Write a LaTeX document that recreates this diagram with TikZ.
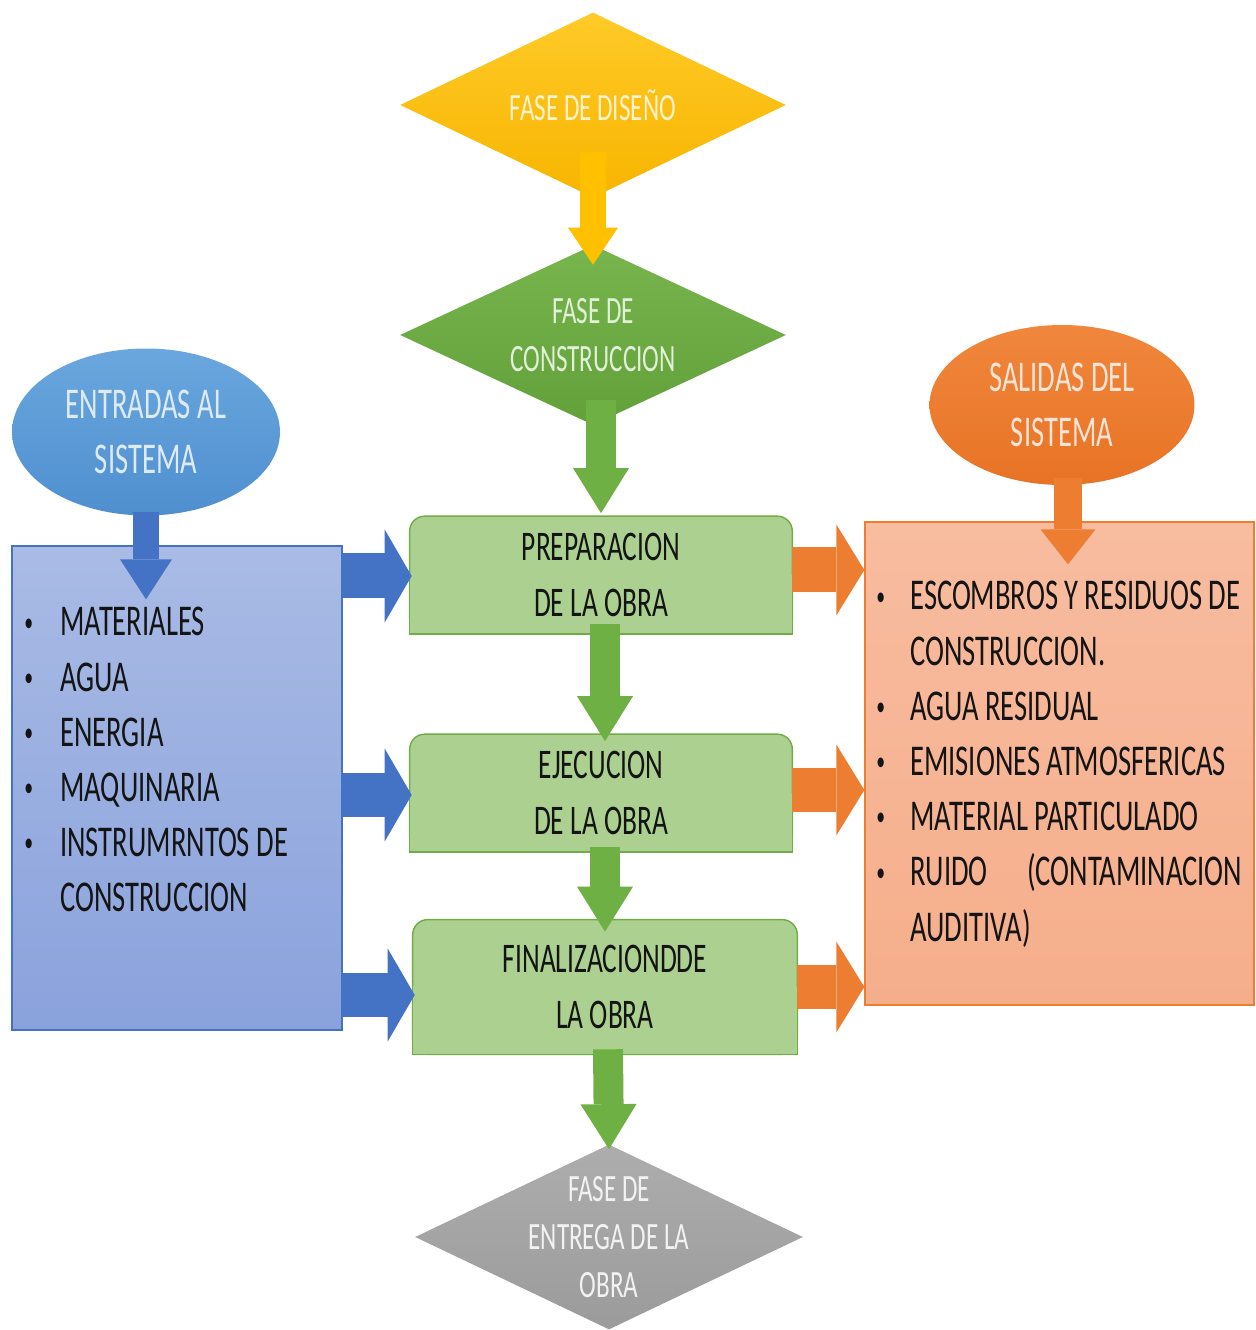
\documentclass[tikz,border=0pt]{standalone}
\usepackage{fontspec}
\setmainfont{Carlito}[FakeStretch=0.65]
\usetikzlibrary{arrows.meta}
\usetikzlibrary{shapes.geometric}
\usetikzlibrary{calc}
\usetikzlibrary{backgrounds}

\definecolor{dyellow}{HTML}{FFC000}
\definecolor{dgreen}{HTML}{70AD47}
\definecolor{agreen}{HTML}{6EB043}
\definecolor{sfill}{HTML}{ABD08F}
\definecolor{bblue}{HTML}{4472C4}
\definecolor{lblue}{HTML}{5B9BD5}
\definecolor{borange}{HTML}{ED7D31}
\definecolor{inkdark}{HTML}{141414}

\newcommand{\dotmark}{\raisebox{0.11em}{\scalebox{0.62}{\textbullet}}}

\begin{document}
\begin{tikzpicture}[x=0.02cm, y=0.02cm]
\tikzset{
   phase/.style = {diamond, minimum width = 7.72cm, minimum height = 3.7cm, inner sep = 0pt},
   phasetext/.style = {align = center, font = \fontsize{22}{27.5}\selectfont},
   source/.style = {ellipse, minimum width = 5.36cm, minimum height = 3.34cm, align = center, font = \fontsize{25}{31}\selectfont},
   stage/.style = {minimum width = 7.64cm, minimum height = 2.34cm, align = center, text = inkdark, font = \fontsize{24}{31.5}\selectfont},
   stagebox/.style = {fill = sfill, draw = dgreen, line width = 0.8pt},
   items/.style = {anchor = base west, inner sep = 0pt, font = \fontsize{25}{31.4}\selectfont},
   flowY/.style = {dyellow, line width = 0.52cm, -{Triangle[width = 1cm, length = 0.74cm, line width = 0pt]}},
   flowG/.style = {agreen, line width = 0.6cm, -{Triangle[width = 1.12cm, length = 0.9cm, line width = 0pt]}},
   flowB/.style = {bblue, line width = 0.54cm, -{Triangle[width = 1.04cm, length = 0.8cm, line width = 0pt]}},
   flowO/.style = {borange, line width = 0.56cm, -{Triangle[width = 1.1cm, length = 0.7cm, line width = 0pt]}},
   sideB/.style = {bblue, line width = 0.9cm, -{Triangle[width = 1.86cm, length = 0.54cm, line width = 0pt]}},
   sideO/.style = {borange, line width = 0.9cm, -{Triangle[width = 1.82cm, length = 0.56cm, line width = 0pt]}}
}
\useasboundingbox (0,0) rectangle (1256,1330);

% phases of the project
\node[phase, top color = {rgb,255:red,255;green,202;blue,40}, bottom color = {rgb,255:red,247;green,181;blue,0},
      label = {[phasetext, text = {rgb,255:red,255;green,242;blue,204}]center:{FASE DE DISEÑO}}] (diseno) at (593,1225) {};
\node[phase, minimum height = 3.6cm, top color = {rgb,255:red,120;green,181;blue,77}, bottom color = {rgb,255:red,98;green,160;blue,58},
      label = {[phasetext, text = {rgb,255:red,226;green,240;blue,217}]center:{FASE DE\\CONSTRUCCION}}] (construccion) at (593,995) {};
\node[phase, minimum width = 7.76cm, top color = {rgb,255:red,173;green,173;blue,173}, bottom color = {rgb,255:red,155;green,155;blue,155},
      label = {[phasetext, text = {rgb,255:red,242;green,242;blue,242}]center:{FASE DE\\ENTREGA DE LA\\OBRA}}] (entrega) at (609,93) {};

% stages
\node[stage] (prep) at (601,755) {PREPARACION\\DE LA OBRA};
\node[stage] (ejec) at (601,537) {EJECUCION\\DE LA OBRA};
\node[stage, minimum width = 7.68cm, minimum height = 2.68cm] (final) at (605,343) {FINALIZACIONDDE\\LA OBRA};

\begin{scope}[on background layer]
  \foreach \n in {prep, ejec, final} {
    \draw[stagebox, rounded corners = 0.3cm] (\n.south west) rectangle (\n.north east);
    \draw[stagebox] (\n.west) -- (\n.south west) -- (\n.south east) -- (\n.east);
  }
\end{scope}

% inputs
\node[source, top color = {rgb,255:red,106;green,167;blue,222}, bottom color = {rgb,255:red,79;green,143;blue,207},
      text = {rgb,255:red,222;green,235;blue,247}] (entradas) at (146,898) {ENTRADAS AL\\SISTEMA};
\node[draw = bblue, line width = 0.8pt, minimum width = 6.6cm, minimum height = 9.68cm,
      top color = {rgb,255:red,169;green,187;blue,229}, bottom color = {rgb,255:red,138;green,162;blue,220}] (inbox) at (177,542) {};
\node[items, text = inkdark] (inlist) at (24,694) {\begin{tabular}[t]{@{}p{0.72cm}@{}l@{}}
  \dotmark & MATERIALES\\
  \dotmark & AGUA\\
  \dotmark & ENERGIA\\
  \dotmark & MAQUINARIA\\
  \dotmark & INSTRUMRNTOS DE\\
           & CONSTRUCCION
\end{tabular}};

% outputs
\node[source, minimum width = 5.3cm, minimum height = 3.2cm, top color = {rgb,255:red,240;green,135;blue,61}, bottom color = {rgb,255:red,232;green,115;blue,37},
      text = {rgb,255:red,252;green,228;blue,214}] (salidas) at (1062,925) {SALIDAS DEL\\SISTEMA};
\node[draw = borange, line width = 0.8pt, minimum width = 7.78cm, minimum height = 9.66cm,
      top color = {rgb,255:red,248;green,188;blue,159}, bottom color = {rgb,255:red,245;green,174;blue,139}] (outbox) at (1059.5,566.5) {};
\node[items, text = inkdark] (outlist) at (876,720) {\begin{tabular}[t]{@{}p{0.68cm}@{}l@{}}
  \dotmark & ESCOMBROS Y RESIDUOS DE\\
           & CONSTRUCCION.\\
  \dotmark & AGUA RESIDUAL\\
  \dotmark & EMISIONES ATMOSFERICAS\\
  \dotmark & MATERIAL PARTICULADO\\
  \dotmark & \makebox[6.64cm][s]{RUIDO (CONTAMINACION}\\
           & AUDITIVA)
\end{tabular}};

% main flow
\draw[flowY] ($(diseno)+(0,-47)$) -- ($(construccion.north)+(0,-20)$);
\draw[flowG] ($(prep.north |- construccion)+(0,-65)$) -- ($(prep.north)+(0,3)$);
\draw[flowG] ($(prep.south)+(4,10)$) -- ($(ejec.north)+(4,-7)$);
\draw[flowG] ($(ejec.south)+(4,5)$) -- ($(final.north)+(0,-12)$);
\draw[flowG] ($(final.south)+(3,5)$) -- ($(entrega.north)+(0,-5)$);

\draw[flowB] ($(entradas.south)+(0,4)$) -- ($(entradas.south |- inbox.north)+(0,-54)$);
\draw[flowO] ($(salidas.south)+(6,7)$) -- ($(salidas.south |- outbox.north)+(6,-43)$);

% inputs and outputs of each stage
\foreach \s/\d in {prep/-1, ejec/-2, final/-8}
  \draw[sideB] ($(inbox.east |- \s.west)+(0,\d)$) -- ($(\s.west)+(2,\d)$);
\foreach \s/\d in {prep/5, ejec/3, final/0}
  \draw[sideO] ($(\s.east)+(0,\d)$) -- ($(outbox.west |- \s.east)+(0,\d)$);

\end{tikzpicture}
\end{document}
